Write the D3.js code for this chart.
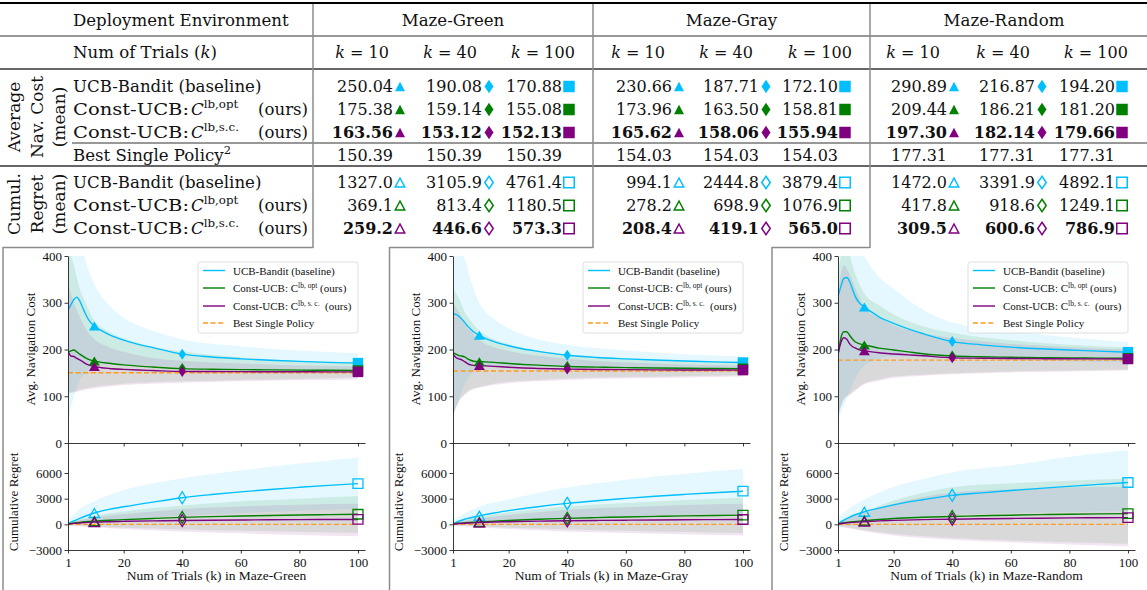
<!DOCTYPE html>
<html>
<head>
<meta charset="utf-8">
<script src="https://cdn.jsdelivr.net/npm/d3@7"></script>
<style>
  body { margin: 0; background: #fff; }
  svg { display: block; }
</style>
</head>
<body>
<div id="chart"></div>
<script>
// ---------- table values ----------
const envNames = ['Maze-Green', 'Maze-Gray', 'Maze-Random'];
const trialCols = [10, 40, 100];
const costUcb = [[250.04, 190.08, 170.88], [230.66, 187.71, 172.10], [290.89, 216.87, 194.20]];
const costOpt = [[175.38, 159.14, 155.08], [173.96, 163.50, 158.81], [209.44, 186.21, 181.20]];
const costSc = [[163.56, 153.12, 152.13], [165.62, 158.06, 155.94], [197.30, 182.14, 179.66]];
const bestSingle = [150.39, 154.03, 177.31];
const regretUcb = [[1327.0, 3105.9, 4761.4], [994.1, 2444.8, 3879.4], [1472.0, 3391.9, 4892.1]];
const regretOpt = [[369.1, 813.4, 1180.5], [278.2, 698.9, 1076.9], [417.8, 918.6, 1249.1]];
const regretSc = [[259.2, 446.6, 573.3], [208.4, 419.1, 565.0], [309.5, 600.6, 786.9]];

// ---------- curve values ----------
const kCost = [1, 2, 3, 4, 5, 6, 7, 8, 10, 12, 15, 20, 25, 30, 40, 50, 60, 70, 80, 90, 100];
const kBand = [1, 3, 5, 7, 10, 15, 20, 30, 40, 60, 80, 100];
const kReg = [1, 3, 5, 10, 15, 20, 30, 40, 50, 60, 70, 80, 90, 100];
const kRegBand = [1, 5, 10, 20, 30, 40, 60, 80, 100];

const greenCost = {
  ucb: [284, 296, 307, 312, 304, 290, 276, 264, 250.04, 242, 232, 220, 211, 204, 190.08, 184, 180, 177, 174.5, 172.5, 170.88],
  opt: [194, 197, 199, 195, 190, 186, 182, 179, 175.38, 173, 170.5, 167, 164.5, 162.5, 159.14, 157.8, 157, 156.4, 155.9, 155.5, 155.08],
  sc: [196, 186, 185, 181, 178, 174, 170, 167, 163.56, 161.5, 159.5, 157.5, 156, 155, 153.12, 152.8, 152.6, 152.4, 152.3, 152.2, 152.13]
};
const greenCostBand = {
  ucbLo: [45, 100, 135, 150, 165, 168, 168, 165, 162, 158, 155, 152],
  ucbHi: [600, 520, 440, 390, 340, 295, 268, 240, 222, 207, 198, 192],
  optLo: [105, 110, 114, 117, 120, 124, 127, 130, 132, 135, 137, 140],
  optHi: [420, 380, 330, 300, 262, 238, 224, 206, 196, 183, 176, 171],
  scLo: [108, 108, 111, 114, 117, 121, 124, 127, 129, 132, 134, 136],
  scHi: [340, 300, 270, 245, 222, 205, 195, 182, 176, 170, 166, 164]
};
const greenRegret = {
  ucb: [100, 400, 700, 1327.0, 1750, 2050, 2600, 3105.9, 3480, 3800, 4080, 4330, 4560, 4761.4],
  opt: [30, 150, 230, 369.1, 470, 550, 690, 813.4, 900, 970, 1040, 1100, 1140, 1180.5],
  sc: [25, 110, 160, 259.2, 310, 350, 410, 446.6, 480, 510, 530, 550, 562, 573.3]
};
const greenRegretBand = {
  ucbLo: [-100, 100, 300, 600, 800, 1000, 1300, 1600, 1800],
  ucbHi: [500, 1800, 2700, 4000, 4800, 5400, 6300, 7100, 7800],
  optLo: [-100, -150, -250, -400, -500, -600, -750, -900, -1000],
  optHi: [200, 600, 1000, 1500, 1900, 2200, 2700, 3000, 3300],
  scLo: [-150, -250, -350, -550, -700, -850, -1050, -1250, -1400],
  scHi: [150, 500, 800, 1200, 1500, 1800, 2100, 2300, 2400]
};

const grayCost = {
  ucb: [276, 275, 271, 265, 258, 250, 244, 238, 230.66, 224, 217, 208, 201, 196, 187.71, 183, 180, 177.5, 175.5, 173.5, 172.10],
  opt: [193, 190, 187, 186, 184, 180, 177, 175, 173.96, 173.5, 172.5, 170, 168, 166.5, 163.50, 162.3, 161.3, 160.5, 159.8, 159.3, 158.81],
  sc: [190, 183, 180, 178, 174, 170, 167, 166, 165.62, 165, 164, 162, 160.5, 159.5, 158.06, 157.3, 156.9, 156.5, 156.3, 156.1, 155.94]
};
const grayCostBand = {
  ucbLo: [55, 95, 125, 145, 160, 165, 165, 163, 162, 160, 158, 156],
  ucbHi: [460, 420, 395, 350, 300, 265, 245, 222, 210, 198, 190, 185],
  optLo: [60, 90, 105, 115, 120, 127, 131, 135, 138, 141, 143, 145],
  optHi: [330, 310, 280, 262, 240, 222, 212, 198, 190, 180, 175, 172],
  scLo: [58, 88, 103, 112, 118, 124, 128, 132, 135, 138, 140, 142],
  scHi: [300, 280, 255, 240, 220, 205, 197, 187, 180, 172, 168, 166]
};
const grayRegret = {
  ucb: [60, 380, 600, 994.1, 1330, 1600, 2060, 2444.8, 2760, 3030, 3280, 3500, 3700, 3879.4],
  opt: [30, 120, 180, 278.2, 380, 450, 590, 698.9, 790, 860, 930, 990, 1040, 1076.9],
  sc: [25, 90, 130, 208.4, 270, 310, 380, 419.1, 455, 485, 510, 535, 550, 565.0]
};
const grayRegretBand = {
  ucbLo: [-100, 50, 150, 400, 550, 700, 950, 1100, 1250],
  ucbHi: [500, 1300, 2100, 2900, 3700, 4300, 5200, 5900, 6500],
  optLo: [-100, -150, -250, -400, -500, -600, -750, -900, -1000],
  optHi: [200, 550, 900, 1400, 1800, 2100, 2500, 2850, 3100],
  scLo: [-150, -250, -350, -550, -700, -850, -1000, -1150, -1300],
  scHi: [150, 450, 700, 1100, 1400, 1700, 2000, 2250, 2400]
};

const randomCost = {
  ucb: [313, 335, 352, 354, 345, 328, 312, 302, 290.89, 282, 270, 256, 244, 234, 216.87, 210, 205, 201.5, 199, 196.5, 194.20],
  opt: [188, 225, 238, 238, 230, 222, 216, 213, 209.44, 207, 203, 199, 195, 191, 186.21, 184.5, 183.3, 182.5, 182, 181.6, 181.20],
  sc: [190, 215, 225, 222, 212, 206, 203, 200, 197.30, 195.5, 193, 190.5, 188.5, 186.5, 182.14, 181.3, 180.8, 180.4, 180.1, 179.9, 179.66]
};
const randomCostBand = {
  ucbLo: [50, 80, 110, 140, 165, 180, 185, 185, 182, 178, 175, 173],
  ucbHi: [500, 520, 480, 440, 400, 355, 330, 285, 258, 240, 226, 216],
  optLo: [58, 95, 105, 115, 128, 136, 142, 146, 149, 153, 155, 157],
  optHi: [360, 420, 400, 360, 320, 295, 275, 250, 236, 220, 210, 204],
  scLo: [55, 92, 102, 112, 125, 133, 139, 144, 147, 151, 153, 155],
  scHi: [320, 380, 360, 330, 290, 268, 252, 235, 225, 212, 205, 200]
};
const randomRegret = {
  ucb: [80, 500, 850, 1472.0, 1900, 2280, 2880, 3391.9, 3680, 3950, 4200, 4440, 4670, 4892.1],
  opt: [40, 180, 280, 417.8, 560, 680, 820, 918.6, 1000, 1070, 1130, 1180, 1220, 1249.1],
  sc: [30, 130, 200, 309.5, 400, 460, 550, 600.6, 650, 690, 720, 750, 770, 786.9]
};
const randomRegretBand = {
  ucbLo: [-100, 100, 300, 700, 900, 1100, 1300, 1450, 1550],
  ucbHi: [700, 1900, 2900, 4400, 5300, 6100, 6900, 7900, 8700],
  optLo: [-200, -400, -700, -1100, -1400, -1600, -1900, -2100, -2300],
  optHi: [300, 900, 1500, 2800, 3700, 4350, 4800, 5100, 5350],
  scLo: [-250, -500, -800, -1300, -1600, -1800, -2100, -2350, -2550],
  scHi: [250, 800, 1300, 2400, 3200, 3700, 4100, 4300, 4400]
};

const seriesKeys = ['ucb', 'opt', 'sc'];
const seriesColors = { ucb: '#00bfff', opt: '#008000', sc: '#800080' };
const bestColor = '#ff9a1a';
const markerTypes = ['tri', 'dia', 'sq'];

// ---------- svg ----------
const W = 1147, H = 590;
const svg = d3.select('#chart').append('svg')
    .attr('width', W)
    .attr('height', H)
    .attr('viewBox', `0 0 ${W} ${H}`);

function hline(x1, x2, y, w, c) {
  svg.append('line')
      .attr('x1', x1).attr('x2', x2).attr('y1', y).attr('y2', y)
      .attr('stroke', c).attr('stroke-width', w);
}
function vline(x, y1, y2, w, c) {
  svg.append('line')
      .attr('x1', x).attr('x2', x).attr('y1', y1).attr('y2', y2)
      .attr('stroke', c).attr('stroke-width', w);
}

// marker shapes: triangle, thin diamond, square
function drawMarker(g, type, cx, cy, s, color, filled, sw) {
  const w = s.w / 2, h = s.h / 2;
  let d;
  if (type === 'tri') d = `M${cx},${cy - h}L${cx + w},${cy + h}L${cx - w},${cy + h}Z`;
  else if (type === 'dia') d = `M${cx},${cy - h}L${cx + w},${cy}L${cx},${cy + h}L${cx - w},${cy}Z`;
  else d = `M${cx - w},${cy - h}H${cx + w}V${cy + h}H${cx - w}Z`;
  g.append('path')
      .attr('d', d)
      .attr('fill', filled ? color : 'none')
      .attr('stroke', filled ? 'none' : color)
      .attr('stroke-width', filled ? 0 : sw)
      .attr('stroke-linejoin', 'miter');
}

// ---------- table ----------
const tab = svg.append('g')
    .style('font-family', '"DejaVu Serif", serif')
    .style('font-size', '16px')
    .attr('fill', '#111');
const labelSize = '16.6px';

// rules
hline(0, W, 3, 2, '#000');
hline(0, W, 36, 1.2, '#333');
hline(0, W, 69, 1.6, '#333');
hline(72, W, 143, 1.2, '#333');
hline(0, W, 166, 1.6, '#333');
[313, 593, 870].forEach(x => vline(x, 4, 248, 1.5, '#8c8c8c'));
// frames around the plots
hline(3, 313, 247.5, 1.5, '#8c8c8c');
hline(389.5, 593, 247.5, 1.5, '#8c8c8c');
hline(772, 870, 247.5, 1.5, '#8c8c8c');
[3, 389.5, 772].forEach(x => vline(x, 247, H, 1.5, '#8c8c8c'));

tab.append('text').attr('x', 73).attr('y', 26).style('font-size', labelSize).text('Deployment Environment');
const trialsLbl = tab.append('text').attr('x', 73).attr('y', 58).style('font-size', labelSize);
trialsLbl.append('tspan').text('Num of Trials (');
trialsLbl.append('tspan').style('font-style', 'italic').text('k');
trialsLbl.append('tspan').text(')');

const envCenter = [453, 731.5, 1004];
const kHeadX = [[362, 450, 543], [638, 726, 820], [913, 1003, 1096]];
const valueEnd = [[393, 482, 562], [672, 759, 838], [947, 1035, 1115]];
const costRowY = [92, 115, 138];
const bestRowY = 161;
const regretRowY = [188, 211, 234];

function methodLabel(i, y) {
  if (i === 0) {
    tab.append('text').attr('x', 73).attr('y', y).style('font-size', labelSize)
        .text('UCB-Bandit (baseline)');
    return;
  }
  tab.append('text').attr('x', 73).attr('y', y).style('font-size', labelSize)
      .attr('textLength', 116).attr('lengthAdjust', 'spacingAndGlyphs')
      .text('Const-UCB:');
  const c = tab.append('text').attr('x', 191).attr('y', y).style('font-size', labelSize);
  c.append('tspan').style('font-style', 'italic').text('C');
  c.append('tspan').attr('dy', -7).style('font-size', '11.8px').text(i === 1 ? 'lb,opt' : 'lb,s.c.');
  tab.append('text').attr('x', 258).attr('y', y).style('font-size', labelSize).text('(ours)');
}
costRowY.forEach((y, i) => methodLabel(i, y));
regretRowY.forEach((y, i) => methodLabel(i, y));
const bestLbl = tab.append('text').attr('x', 73).attr('y', bestRowY).style('font-size', labelSize);
bestLbl.append('tspan').text('Best Single Policy');
bestLbl.append('tspan').attr('dy', -7).style('font-size', '11.5px').text('2');

// rotated group labels
const groupLabels = [['Average', 'Nav. Cost', '(mean)'], ['Cumul.', 'Regret', '(mean)']];
const groupCenterY = [117, 204];
const groupBaseX = [20, 43, 65];
groupLabels.forEach((lines, gi) => {
  lines.forEach((txt, li) => {
    tab.append('text')
        .attr('transform', `translate(${groupBaseX[li]},${groupCenterY[gi]}) rotate(-90)`)
        .attr('text-anchor', 'middle')
        .style('font-size', '17px')
        .text(txt);
  });
});

const tableFilled = { tri: { w: 10, h: 9.5 }, dia: { w: 9, h: 13.5 }, sq: { w: 11.5, h: 11.5 } };
const tableHollow = { tri: { w: 9.5, h: 9 }, dia: { w: 8.5, h: 12.5 }, sq: { w: 10.5, h: 10.5 } };

envNames.forEach((env, e) => {
  tab.append('text').attr('x', envCenter[e]).attr('y', 26).attr('text-anchor', 'middle')
      .style('font-size', labelSize).text(env);
  trialCols.forEach((k, c) => {
    const kt = tab.append('text').attr('x', kHeadX[e][c]).attr('y', 58).attr('text-anchor', 'middle');
    kt.append('tspan').style('font-style', 'italic').text('k');
    kt.append('tspan').text(` = ${k}`);

    const xe = valueEnd[e][c];
    const type = markerTypes[c];
    [costUcb, costOpt, costSc].forEach((arr, s) => {
      const y = costRowY[s];
      tab.append('text')
          .attr('x', xe).attr('y', y).attr('text-anchor', 'end')
          .style('font-weight', s === 2 ? 'bold' : null)
          .text(arr[e][c].toFixed(2));
      drawMarker(tab, type, xe + 7, y - 5.5, tableFilled[type], seriesColors[seriesKeys[s]], true);
    });
    tab.append('text')
        .attr('x', xe).attr('y', bestRowY).attr('text-anchor', 'end')
        .text(bestSingle[e].toFixed(2));
    [regretUcb, regretOpt, regretSc].forEach((arr, s) => {
      const y = regretRowY[s];
      tab.append('text')
          .attr('x', xe).attr('y', y).attr('text-anchor', 'end')
          .style('font-weight', s === 2 ? 'bold' : null)
          .text(arr[e][c].toFixed(1));
      drawMarker(tab, type, xe + 7, y - 5.5, tableHollow[type], seriesColors[seriesKeys[s]], false, 1.5);
    });
  });
});

// ---------- plots ----------
const plotFilled = { tri: { w: 11, h: 9 }, dia: { w: 7.5, h: 11 }, sq: { w: 10.5, h: 10.5 } };
const plotHollow = { tri: { w: 10.5, h: 9 }, dia: { w: 7.5, h: 12 }, sq: { w: 10, h: 9.5 } };
const plotFont = '"Liberation Serif", "Times New Roman", serif';

function styleAxis(a) {
  a.attr('font-family', null).attr('font-size', null);
  a.select('.domain').attr('stroke', '#222').attr('stroke-width', 0.9);
  a.selectAll('.tick line').attr('stroke', '#222').attr('stroke-width', 0.9);
  a.selectAll('.tick text').attr('fill', '#111')
      .style('font-family', plotFont)
      .style('font-size', '13px');
}

function drawPlot(e, dx, cost, costBand, regret, regretBand) {
  const g = svg.append('g')
      .style('font-family', plotFont)
      .style('font-size', '13px')
      .attr('fill', '#111');

  const x = d3.scaleLinear().domain([1, 102.4]).range([68 + dx, 365 + dx]);
  const yC = d3.scaleLinear().domain([0, 400]).range([443, 256]);
  const yR = d3.scaleLinear().domain([-3000, 9275]).range([550, 445]);

  const clipC = `clipC${e}`, clipR = `clipR${e}`;
  svg.append('clipPath').attr('id', clipC).append('rect')
      .attr('x', x.range()[0]).attr('y', 256).attr('width', 297).attr('height', 187);
  svg.append('clipPath').attr('id', clipR).append('rect')
      .attr('x', x.range()[0]).attr('y', 445).attr('width', 297).attr('height', 105);

  const panels = [
    { y: yC, clip: clipC, mean: cost, kMean: kCost, band: costBand, kB: kBand,
      best: bestSingle[e], table: [costUcb, costOpt, costSc], filled: true },
    { y: yR, clip: clipR, mean: regret, kMean: kReg, band: regretBand, kB: kRegBand,
      best: 0, table: [regretUcb, regretOpt, regretSc], filled: false }
  ];

  panels.forEach(p => {
    const layer = g.append('g').attr('clip-path', `url(#${p.clip})`);
    seriesKeys.forEach(s => {
      const lo = p.band[s + 'Lo'], hi = p.band[s + 'Hi'];
      const area = d3.area()
          .x((d, i) => x(p.kB[i]))
          .y0((d, i) => p.y(lo[i]))
          .y1((d, i) => p.y(hi[i]))
          .curve(d3.curveMonotoneX);
      layer.append('path').attr('d', area(p.kB))
          .attr('fill', seriesColors[s]).attr('fill-opacity', 0.1);
    });
    layer.append('line')
        .attr('x1', x(1)).attr('x2', x(100))
        .attr('y1', p.y(p.best)).attr('y2', p.y(p.best))
        .attr('stroke', bestColor).attr('stroke-width', 1.4)
        .attr('stroke-dasharray', '5,2.6');
    seriesKeys.forEach((s, si) => {
      const vals = p.mean[s];
      const line = d3.line()
          .x((d, i) => x(p.kMean[i]))
          .y((d, i) => p.y(vals[i]))
          .curve(d3.curveMonotoneX);
      layer.append('path').attr('d', line(p.kMean))
          .attr('fill', 'none').attr('stroke', seriesColors[s]).attr('stroke-width', 1.4);
      trialCols.forEach((k, c) => {
        const type = markerTypes[c];
        drawMarker(g, type, x(k), p.y(p.table[si][e][c]),
            p.filled ? plotFilled[type] : plotHollow[type], seriesColors[s], p.filled, 1.3);
      });
    });
  });

  // axes
  const xTicks = [1, 20, 40, 60, 80, 100];
  const axC = g.append('g').attr('transform', `translate(${68 + dx},0)`)
      .call(d3.axisLeft(yC).tickValues([0, 100, 200, 300, 400]).tickSize(3.5).tickSizeOuter(0).tickPadding(2.5));
  const axCx = g.append('g').attr('transform', 'translate(0,443)')
      .call(d3.axisBottom(x).tickValues(xTicks).tickFormat('').tickSize(3.5).tickSizeOuter(0));
  const axR = g.append('g').attr('transform', `translate(${68 + dx},0)`)
      .call(d3.axisLeft(yR).tickValues([-3000, 0, 3000, 6000]).tickFormat(d3.format('d'))
          .tickSize(3.5).tickSizeOuter(0).tickPadding(2.5));
  const axRx = g.append('g').attr('transform', 'translate(0,550)')
      .call(d3.axisBottom(x).tickValues(xTicks).tickSize(3.5).tickSizeOuter(0).tickPadding(4));
  [axC, axCx, axR, axRx].forEach(a => styleAxis(a));

  g.append('text')
      .attr('transform', `translate(${35 + dx},349) rotate(-90)`)
      .attr('text-anchor', 'middle')
      .text('Avg. Navigation Cost');
  g.append('text')
      .attr('transform', `translate(${18 + dx},502) rotate(-90)`)
      .attr('text-anchor', 'middle')
      .text('Cumulative Regret');
  g.append('text')
      .attr('x', (x.range()[0] + x.range()[1]) / 2).attr('y', 580)
      .attr('text-anchor', 'middle')
      .style('font-size', '13.5px')
      .text(`Num of Trials (k) in ${envNames[e]}`);

  // legend
  const lg = g.append('g').attr('transform', `translate(${198 + dx},262)`).style('font-size', '11px');
  lg.append('rect').attr('width', 160).attr('height', 71).attr('rx', 2.5)
      .attr('fill', '#fff').attr('fill-opacity', 0.8)
      .attr('stroke', '#d6d6d6').attr('stroke-width', 0.8);
  const rowY = [8.5, 26, 44, 61];
  const entries = [
    { color: seriesColors.ucb, dash: null, main: 'UCB-Bandit (baseline)' },
    { color: seriesColors.opt, dash: null, main: 'Const-UCB: C', sup: 'lb, opt', tail: ' (ours)' },
    { color: seriesColors.sc, dash: null, main: 'Const-UCB: C', sup: 'lb, s. c.', tail: '  (ours)' },
    { color: bestColor, dash: '5,2.6', main: 'Best Single Policy' }
  ];
  entries.forEach((en, i) => {
    lg.append('line')
        .attr('x1', 5).attr('x2', 27).attr('y1', rowY[i]).attr('y2', rowY[i])
        .attr('stroke', en.color).attr('stroke-width', 1.4)
        .attr('stroke-dasharray', en.dash);
    const t = lg.append('text').attr('x', 35).attr('y', rowY[i] + 4)
        .attr('xml:space', 'preserve');
    t.append('tspan').text(en.main);
    if (en.sup) {
      t.append('tspan').attr('dy', -4.5).style('font-size', '7.5px').text(en.sup);
      t.append('tspan').attr('dy', 4.5).text(en.tail);
    }
  });
}

drawPlot(0, 0, greenCost, greenCostBand, greenRegret, greenRegretBand);
drawPlot(1, 385, grayCost, grayCostBand, grayRegret, grayRegretBand);
drawPlot(2, 770, randomCost, randomCostBand, randomRegret, randomRegretBand);
</script>
</body>
</html>
